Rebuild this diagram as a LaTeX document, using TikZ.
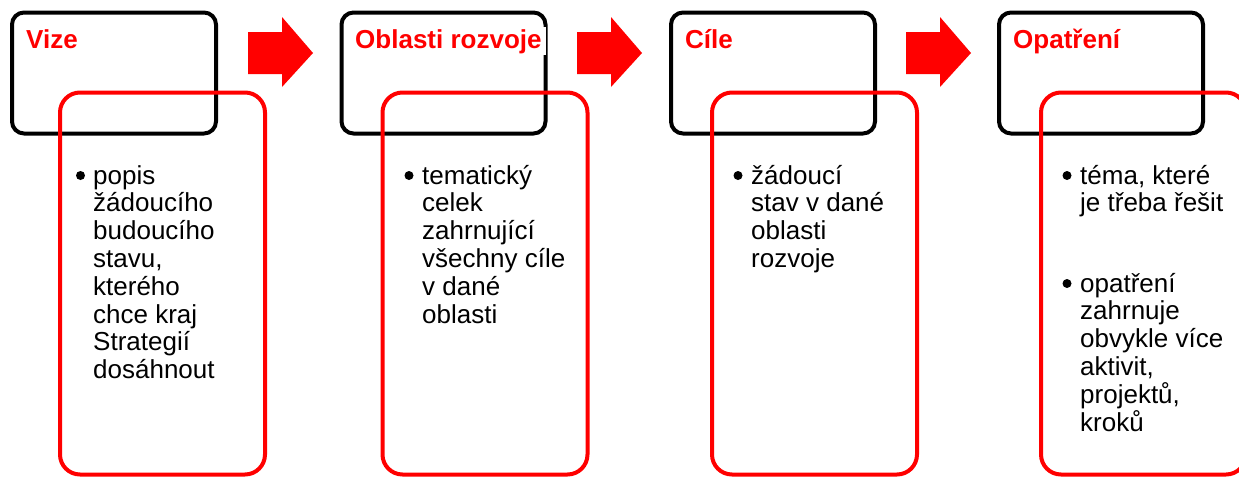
\documentclass[tikz,border=0pt]{standalone}
\usepackage{fontspec}
\setmainfont{Liberation Sans}
\usepackage{tikz}
\newcommand{\drawStepArrow}[2]{
\fill [red] (#1,#2-21) -- (#1+34,#2-21) -- (#1+34,#2-36) -- (#1+65,#2) -- (#1+34,#2+34) -- (#1+34,#2+21) -- (#1,#2+21) -- cycle;
}
\tikzset{
  headbox/.style={draw=black,line width=4pt,rounded corners=12pt,minimum width=204pt,minimum height=121pt,inner sep=0pt},
  bodybox/.style={draw=red,line width=4pt,rounded corners=20pt,minimum width=205pt,minimum height=382pt,inner sep=0pt},
  headtext/.style={anchor=base west,fill=white,inner xsep=4pt,inner ysep=2pt,text=red,font=\fontsize{26}{28}\selectfont\bfseries},
  itemtext/.style={anchor=base west,align=left,inner sep=0pt,font=\fontsize{26}{27.8}\selectfont},
  dot/.style={circle,fill=black,inner sep=0pt,minimum size=9pt}
}
\begin{document}
\begin{tikzpicture}[x=1pt,y=-1pt]
\useasboundingbox (0,0) rectangle (1239,477);
\clip (0,0) rectangle (1239,477);
%
\node (head1) at (114,73) [headbox] {};
\node (head2) at (443.5,73) [headbox] {};
\node (head3) at (773,73) [headbox] {};
\node (head4) at (1101,73) [headbox] {};
%
\node (vize) at (22,48) [headtext] {Vize};
\node (oblasti) at (351,48) [headtext] {Oblasti rozvoje};
\node (cile) at (681,48) [headtext] {Cíle};
\node (opatreni) at (1009,48) [headtext] {Opatření};
%
\node (body1) at (162.5,283.5) [bodybox] {};
\node (body2) at (485,283.5) [bodybox] {};
\node (body3) at (814.5,283.5) [bodybox] {};
\node (body4) at (1143.5,283.5) [bodybox] {};
%
\drawStepArrow{248}{53};
\drawStepArrow{577}{53};
\drawStepArrow{906}{53};
%
% base anchor = last line, so y is first baseline (184) + lines*27.8
\node (dot1) at (80.5,175.5) [dot] {};
\node (text1) at (93,378.6) [itemtext] {popis\\žádoucího\\budoucího\\stavu,\\kterého\\chce kraj\\Strategií\\dosáhnout};
\node (dot2) at (409,175.5) [dot] {};
\node (text2) at (422,323) [itemtext] {tematický\\celek\\zahrnující\\všechny cíle\\v dané\\oblasti};
\node (dot3) at (738,175.5) [dot] {};
\node (text3) at (751,267.4) [itemtext] {žádoucí\\stav v dané\\oblasti\\rozvoje};
\node (dot4a) at (1067,175.5) [dot] {};
\node (text4a) at (1080,211.8) [itemtext] {téma, které\\je třeba řešit};
\node (dot4b) at (1067,283.5) [dot] {};
\node (text4b) at (1080,431) [itemtext] {opatření\\zahrnuje\\obvykle více\\aktivit,\\projektů,\\kroků};
\end{tikzpicture}
\end{document}
